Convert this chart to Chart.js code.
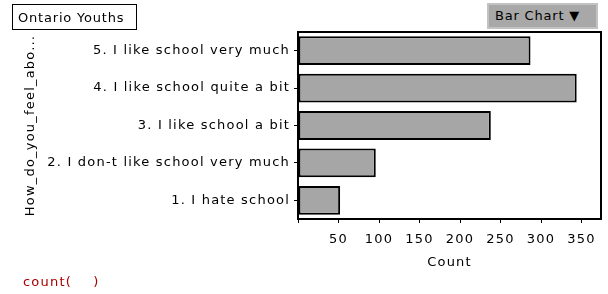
<!DOCTYPE html>
<html>
<head>
    <script src="https://cdn.jsdelivr.net/npm/chart.js@4.4.0/dist/chart.umd.min.js"></script>
    <style>
    body {
        margin: 0;
        background-color: #ffffff;
        font-family: "DejaVu Sans", verdana, arial, sans-serif;
    }
    #wrap { position: relative; width: 608px; height: 294px; }
    #title-box {
        position: absolute; left: 12px; top: 4px; width: 125px; height: 26px;
        border: 1px solid #000; font-size: 13px; line-height: 25px; padding-left: 5px;
        box-sizing: border-box; letter-spacing: 0.8px;
    }
    #type-btn {
        position: absolute; left: 487px; top: 3px; width: 111px; height: 26px;
        background: #a8a8a8; border: 2px solid #c2c2c2; font-size: 13px; line-height: 22px;
        padding-left: 6px; box-sizing: border-box; letter-spacing: 0.8px;
    }
    #formula {
        position: absolute; left: 23px; top: 274px; font-size: 13px; color: #a80000; letter-spacing: 1.2px;
    }
    </style>
    <title>Ontario Youths</title>
</head>
<body>
<div id="wrap">
    <canvas id="myChart" width="608" height="294"></canvas>
    <div id="title-box">Ontario Youths</div>
    <div id="type-btn">Bar Chart &#9660;</div>
    <div id="formula">count(&nbsp;&nbsp;&nbsp;&nbsp;)</div>
</div>

<script>
    // categories listed top to bottom as in the picture
    var categories = [
        '5. I like school very much',
        '4. I like school quite a bit',
        '3. I like school a bit',
        '2. I don-t like school very much',
        '1. I hate school'
    ];
    var counts = [287, 344, 238, 96, 52];
    var xTicks = [0, 50, 100, 150, 200, 250, 300, 350];
    var xMax = 374;

    var frame = {
        id: 'frame',
        beforeInit: function (chart) {
            chart.ctx.letterSpacing = '1.2px';
        },
        beforeDraw: function (chart) {
            chart.ctx.letterSpacing = '1.2px';
        },
        afterDraw: function (chart) {
            var a = chart.chartArea;
            var ctx = chart.ctx;
            ctx.save();
            ctx.strokeStyle = '#000';
            ctx.lineWidth = 2;
            ctx.strokeRect(a.left, a.top, a.right - a.left, a.bottom - a.top);
            ctx.restore();
        }
    };

    var fnt = { family: 'DejaVu Sans', size: 13 };

    var ctx = document.getElementById('myChart').getContext('2d');
    var myChart = new Chart(ctx, {
        type: 'bar',
        data: {
            labels: categories,
            datasets: [{
                label: 'Count',
                data: counts,
                backgroundColor: '#a6a6a6',
                borderColor: '#000',
                borderWidth: 2,
                borderSkipped: false,
                barPercentage: 0.77,
                categoryPercentage: 1
            }]
        },
        options: {
            indexAxis: 'y',
            responsive: false,
            animation: false,
            layout: { padding: { left: 23, top: 32, right: 7, bottom: 20 } },
            plugins: {
                legend: { display: false },
                tooltip: { enabled: false }
            },
            scales: {
                x: {
                    min: 0,
                    max: xMax,
                    afterBuildTicks: function (scale) {
                        scale.ticks = xTicks.map(function (v) { return { value: v }; });
                    },
                    afterFit: function (scale) { scale.height = 55; },
                    ticks: {
                        color: '#000',
                        font: fnt,
                        padding: 9,
                        maxRotation: 0,
                        callback: function (v) { return v === 0 ? '' : v; }
                    },
                    grid: { drawOnChartArea: false, drawTicks: true, tickLength: 4, color: '#000', lineWidth: 1 },
                    border: { color: '#000', width: 2 },
                    title: { display: true, text: 'Count', color: '#000', font: fnt, padding: { top: 2 } }
                },
                y: {
                    afterFit: function (scale) { scale.width = 275; },
                    ticks: {
                        color: '#000',
                        font: fnt,
                        padding: 4
                    },
                    grid: { drawOnChartArea: false, drawTicks: true, tickLength: 4, color: '#000', lineWidth: 1, offset: false },
                    border: { color: '#000', width: 2 },
                    title: { display: true, text: 'How_do_you_feel_abo...', color: '#000', font: fnt, padding: 0 }
                }
            }
        },
        plugins: [frame]
    });
</script>
</body>
</html>
